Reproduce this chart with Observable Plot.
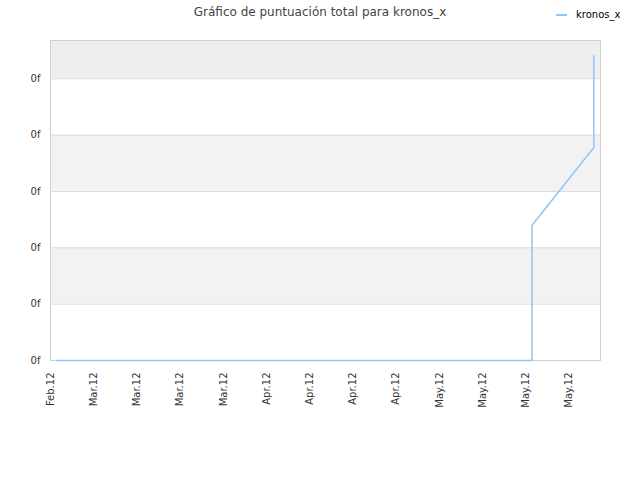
<!DOCTYPE html>
<html>
<head>
<meta charset="utf-8">
<script src="https://cdn.jsdelivr.net/npm/d3@7"></script>
<script src="https://cdn.jsdelivr.net/npm/@observablehq/plot@0.6"></script>
<style>
  html, body { margin: 0; padding: 0; background: #fff; }
  #wrap { position: relative; width: 640px; height: 480px; font-family: "DejaVu Sans", sans-serif; }
  #title { position: absolute; left: 0; width: 640px; top: 5px; text-align: center; font-size: 12px; color: #444; }
  #legend { position: absolute; left: 556px; top: 9px; font-size: 10px; color: #000; display: flex; align-items: center; }
  #legend .sw { width: 11px; height: 2px; background: #92c5f5; margin-right: 9px; }
  #chart { position: absolute; left: 0; top: 0; }
</style>
</head>
<body>
<div id="wrap">
  <div id="chart"></div>
  <div id="title">Gráfico de puntuación total para kronos_x</div>
  <div id="legend"><div class="sw"></div><span>kronos_x</span></div>
</div>
<script>
// Series (dates and total score values)
const dates = ["2012-03-01", "2012-05-17", "2012-05-17", "2012-05-27", "2012-05-27"];
const values = [0, 0, 2.4, 3.78, 5.41];

// X tick dates (labels shown as Mon.yy)
const xTicks = ["2012-02-29", "2012-03-07", "2012-03-14", "2012-03-21", "2012-03-28",
                "2012-04-04", "2012-04-11", "2012-04-18", "2012-04-25",
                "2012-05-02", "2012-05-09", "2012-05-16", "2012-05-23"];
// Y ticks (labels displayed as the broken format "0f")
const yTicks = [0, 1, 2, 3, 4, 5];
const yTickLabel = "0f";

// Alternating background bands
const bandStarts = [1, 3, 5];
const bandEnds = [2, 4, 5.68];
const bandFills = ["#f2f2f2", "#f2f2f2", "#eeeeee"];

const parse = d3.utcParse("%Y-%m-%d");
const data = dates.map((d, i) => ({date: parse(d), value: values[i]}));
const xDomain = [parse("2012-02-29"), new Date(Date.UTC(2012, 4, 28, 2))];
const yDomain = [0, 5.68];
const bands = bandStarts.map((s, i) => ({y1: s, y2: bandEnds[i], fill: bandFills[i], x1: xDomain[0], x2: xDomain[1]}));

const chart = Plot.plot({
  width: 640,
  height: 480,
  marginTop: 40,
  marginLeft: 50,
  marginRight: 40,
  marginBottom: 120,
  style: {fontFamily: "DejaVu Sans, sans-serif", background: "#fff", color: "#333"},
  x: {type: "utc", domain: xDomain},
  y: {domain: yDomain},
  marks: [
    Plot.rect(bands, {x1: "x1", x2: "x2", y1: "y1", y2: "y2", fill: "fill"}),
    Plot.gridY(yTicks, {stroke: "#dddddd", strokeOpacity: 1}),
    Plot.frame({stroke: "#d0d0d0"}),
    Plot.axisY(yTicks, {tickSize: 0, tickPadding: 10, fontSize: 10, tickFormat: () => yTickLabel, label: null, fill: "#333"}),
    Plot.axisX(xTicks.map(parse), {tickSize: 0, tickPadding: 12, tickRotate: -90, fontSize: 10,
      tickFormat: d3.utcFormat("%b.%y"), label: null, fill: "#333"}),
    Plot.line(data, {x: "date", y: "value", stroke: "#92c5f5", strokeWidth: 1.5})
  ]
});
document.getElementById("chart").appendChild(chart);
</script>
</body>
</html>
